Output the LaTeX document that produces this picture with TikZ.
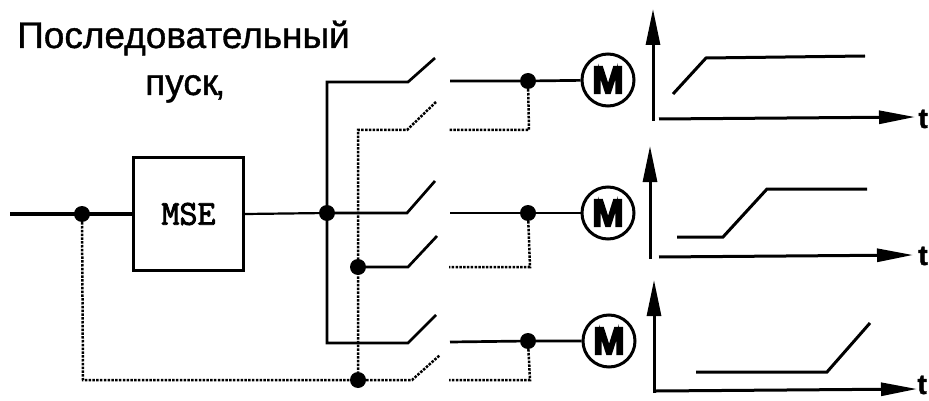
\documentclass[tikz,border=0pt]{standalone}
\usepackage{fontspec}
\setmainfont{Liberation Sans}
\newfontfamily\motorfnt[FakeBold=5]{Liberation Sans Bold}
\newfontfamily\tfnt[FakeBold=1.5]{Liberation Sans Bold}
\newfontfamily\msefnt[FakeBold=2.5]{Latin Modern Mono}
\newfontfamily\titlefnt[FakeBold=1]{Liberation Sans}
\usetikzlibrary{arrows.meta}
\tikzset{
  wire/.style={line width=2.7pt,black},
  wirethin/.style={line width=2.2pt,black},
  dotwire/.style={line width=2.5pt,black,dash pattern=on 2.5pt off 1.3pt},
  junction/.style={circle,fill=black,inner sep=0pt,minimum size=16pt},
  motor/.style={circle,draw=black,line width=3pt,fill=white,inner sep=0pt,minimum size=52pt,font=\motorfnt\fontsize{38}{38}\selectfont},
  box/.style={draw=black,line width=3pt,fill=white,inner sep=0pt,minimum width=110pt,minimum height=112pt,font=\msefnt\fontsize{35}{35}\selectfont},
  axup/.style={line width=3pt,black,-{Triangle[length=36pt,width=14pt]}},
  axright/.style={line width=3pt,black,-{Triangle[length=36pt,width=13pt]}},
  curve/.style={line width=3pt,black,line join=miter},
  title/.style={inner sep=0pt,font=\titlefnt\fontsize{37}{37}\selectfont},
  tlabel/.style={inner sep=0pt,font=\tfnt\fontsize{28}{28}\selectfont}
}
\begin{document}
\begin{tikzpicture}[x=1pt,y=-1pt]
\useasboundingbox[fill=white] (0,0) rectangle (929,401);
\node[title,anchor=base west] (t1) at (17,48) {Последовательный};
\node[title,anchor=base west] (t2) at (145,95) {пуск\kern-3pt,};
% junctions
\node[junction] (j0) at (82,214) {};
\node[junction] (j1) at (327,213) {};
\node[junction] (j2) at (358,267) {};
\node[junction] (j3) at (358,380) {};
\node[junction] (o1) at (528,81) {};
\node[junction] (o2) at (528,213) {};
\node[junction] (o3) at (528,341) {};
\node[box] (mse) at (188.5,214) {MSE};
\node[motor] (m1) at (608,80) {M};
\node[motor] (m2) at (608,213) {M};
\node[motor] (m3) at (609,341) {M};
% coordinates
\coordinate (in) at (10,214);
\coordinate (a1) at (327,82); \coordinate (a1b) at (408,82); \coordinate (a1c) at (435,58); \coordinate (r1) at (450,81);
\coordinate (b0) at (358,130); \coordinate (b1) at (407,130); \coordinate (b1c) at (436,102);
\coordinate (r1d) at (449,130); \coordinate (c1) at (529,130);
\coordinate (a2) at (407,213); \coordinate (a2c) at (435,181); \coordinate (r2) at (450,213);
\coordinate (b2) at (408,267); \coordinate (b2c) at (437,236); \coordinate (r2d) at (449,267); \coordinate (c2) at (530,267);
\coordinate (a3) at (327,343); \coordinate (a3b) at (408,343); \coordinate (a3c) at (436,315); \coordinate (r3) at (450,342);
\coordinate (b3) at (412,380); \coordinate (b3c) at (440,355); \coordinate (r3d) at (449,380); \coordinate (c3) at (530,380);
\coordinate (lc) at (83,380);
% wires
\draw[wire,line width=3.4pt] (in) -- (mse.west);
\draw[wirethin] (mse.east) -- (j1);
\draw[wire] (a1c) -- (a1b) -- (a1) -- (a3) -- (a3b) -- (a3c);
\draw[wire] (j1) -- (a2) -- (a2c);
\draw[wire] (j2) -- (b2) -- (b2c);
\draw[wire] (r1) -- (o1) -- (m1);
\draw[wire] (r2) -- (o2) -- (m2);
\draw[wire] (r3) -- (o3) -- (m3);
\draw[dotwire] (o1) -- (c1) -- (r1d);
\draw[dotwire] (o2) -- (c2) -- (r2d);
\draw[dotwire] (o3) -- (c3) -- (r3d);
\draw[dotwire] (b1c) -- (b1) -- (b0) -- (j3);
\draw[dotwire] (j0) -- (lc) -- (j3);
\draw[dotwire] (j3) -- (b3) -- (b3c);
% graphs
\coordinate (g1o) at (653,121); \coordinate (g1t) at (653,9); \coordinate (g1s) at (659,119); \coordinate (g1e) at (915,117);
\coordinate (g2o) at (650,259); \coordinate (g2t) at (650,146); \coordinate (g2s) at (659,257); \coordinate (g2e) at (913,255);
\coordinate (g3o) at (654,393); \coordinate (g3t) at (654,280); \coordinate (g3s) at (656,391); \coordinate (g3e) at (917,389);
\draw[axup] (g1o) -- (g1t);
\draw[axright] (g1s) -- (g1e);
\draw[axup] (g2o) -- (g2t);
\draw[axright] (g2s) -- (g2e);
\draw[axup] (g3o) -- (g3t);
\draw[axright] (g3s) -- (g3e);
\coordinate (p1) at (673,94); \coordinate (p2) at (706,58); \coordinate (p3) at (865,56);
\draw[curve] (p1) -- (p2) -- (p3);
\coordinate (q1) at (677,237); \coordinate (q2) at (723,237); \coordinate (q3) at (767,189); \coordinate (q4) at (867,189);
\draw[curve] (q1) -- (q2) -- (q3) -- (q4);
\coordinate (s1) at (696,372); \coordinate (s2) at (827,372); \coordinate (s3) at (870,323);
\draw[curve] (s1) -- (s2) -- (s3);
\node[tlabel,anchor=base east] (t3) at (928,128) {t};
\node[tlabel,anchor=base] (t4) at (923,265) {t};
\node[tlabel,anchor=base east] (t5) at (927,394) {t};
\end{tikzpicture}
\end{document}
